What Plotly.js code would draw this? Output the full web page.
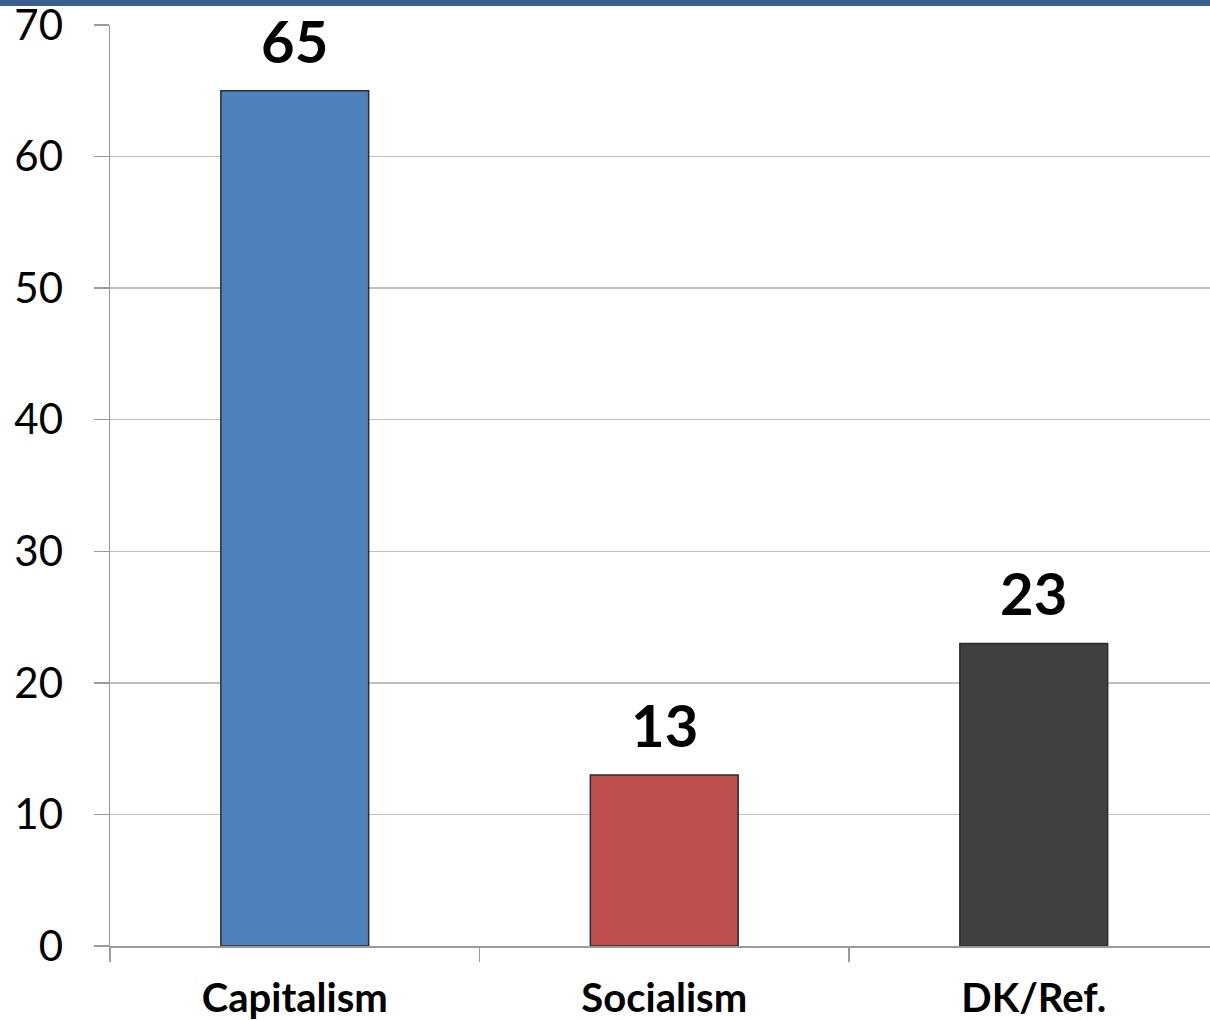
<!DOCTYPE html>
<html>
<head>
<meta charset="utf-8">
<script src="https://cdn.plot.ly/plotly-3.0.1.min.js"></script>
<style>html,body{margin:0;padding:0;background:#fff;}#chart{width:1210px;height:1020px;}</style>
</head>
<body>
<div id="chart"></div>
<script>
const categories = ["Capitalism", "Socialism", "DK/Ref."];
const values = [65, 13, 23];
const barColors = ["#4F81BD", "#C0504D", "#404040"];
const yTicks = [0, 10, 20, 30, 40, 50, 60, 70];

const trace = {
  type: "bar",
  x: categories,
  y: values,
  width: 0.4,
  marker: { color: barColors, line: { color: "#2b2b2b", width: 1.5 } },
  hoverinfo: "none",
  cliponaxis: false
};

const annotations = categories.map((c, i) => ({
  x: c, y: values[i], xref: "x", yref: "y",
  text: "<b>" + values[i] + "</b>",
  showarrow: false, yanchor: "bottom", yshift: 14,
  font: { family: "Lato, sans-serif", size: 58, color: "#000", weight: 900 }
}));

const layout = {
  width: 1210, height: 1020,
  margin: { l: 110, r: 0, t: 25, b: 74, pad: 0 },
  paper_bgcolor: "#fff", plot_bgcolor: "#fff",
  showlegend: false,
  bargap: 0.6,
  xaxis: {
    type: "category",
    range: [-0.5, 2.477],
    tickson: "boundaries",
    ticks: "outside", ticklen: 14, tickcolor: "#9a9a9a", tickwidth: 1.5,
    showline: true, linecolor: "#9a9a9a", linewidth: 1.5,
    showgrid: false, zeroline: false,
    tickfont: { family: "Lato, sans-serif", size: 40, color: "#000", weight: "bold" },
    ticklabelstandoff: 16,
    ticklabeloverflow: "allow"
  },
  yaxis: {
    range: [0, 70],
    tickvals: yTicks,
    ticks: "outside", ticklen: 15, tickcolor: "#9a9a9a", tickwidth: 1.5,
    showline: true, linecolor: "#9a9a9a", linewidth: 1.5,
    showgrid: true, gridcolor: "#c0c0c0", gridwidth: 1.5,
    zeroline: false,
    tickfont: { family: "Lato, sans-serif", size: 42, color: "#000" },
    ticklabelstandoff: 22,
    ticklabeloverflow: "allow"
  },
  shapes: [{
    type: "rect", xref: "paper", yref: "paper",
    x0: -0.2, x1: 1.01, y0: (946 - 6) / 921, y1: (946 + 2) / 921 + 0.01,
    fillcolor: "#3B5E8C", line: { width: 0 }, layer: "above"
  }],
  annotations: annotations
};

Plotly.newPlot("chart", [trace], layout, { displayModeBar: false, staticPlot: true });
</script>
</body>
</html>
